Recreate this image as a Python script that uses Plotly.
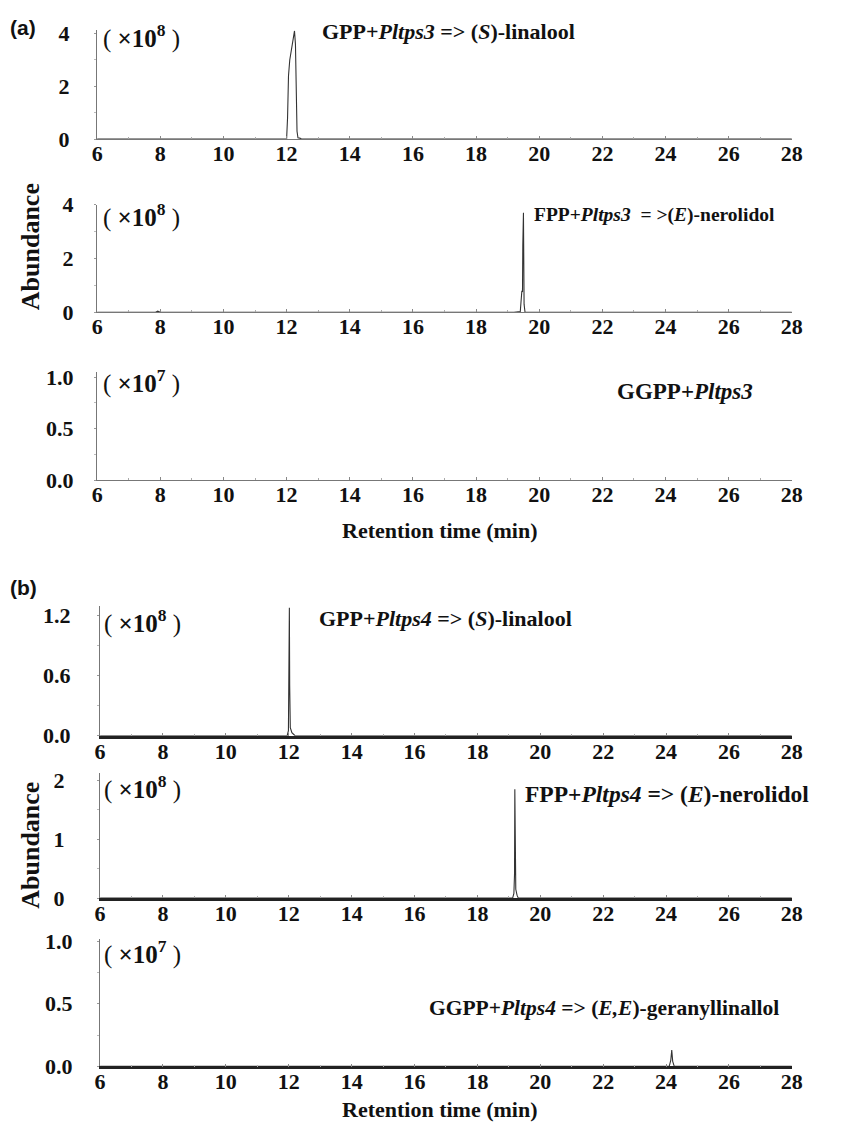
import plotly.graph_objects as go

W, H = 845, 1138

# ---------------- data (retention time in min, abundance in axis units) -------------
t1 = [6.0, 12.0, 12.03, 12.06, 12.1, 12.17, 12.22, 12.25, 12.28, 12.31, 12.33, 12.36, 12.42, 12.48, 28.0]
a1 = [0, 0, 0.8, 2.4, 3.0, 3.6, 4.0, 4.1, 3.6, 1.5, 0.3, 0.05, 0.04, 0, 0]

t2 = [6.0, 7.85, 7.92, 8.0, 19.2, 19.4, 19.45, 19.47, 19.48, 19.5, 19.52, 19.55, 28.0]
a2 = [0, 0, 0.04, 0, 0, 0.03, 0.8, 0.75, 2.5, 3.7, 0.3, 0, 0]

t3 = [6.0, 28.0]
a3 = [0, 0]

t4 = [6.0, 11.95, 11.99, 12.0, 12.01, 12.02, 12.03, 12.05, 12.1, 12.2, 28.0]
a4 = [0, 0, 0.05, 0.5, 0.45, 1.28, 0.5, 0.08, 0.03, 0, 0]

t5 = [6.0, 19.12, 19.16, 19.18, 19.19, 19.2, 19.22, 19.26, 19.3, 28.0]
a5 = [0, 0, 0.08, 0.4, 1.85, 0.35, 0.15, 0.05, 0, 0]

t6 = [6.0, 24.1, 24.15, 24.18, 24.21, 24.26, 28.0]
a6 = [0, 0, 0.05, 0.13, 0.04, 0, 0]

x_ticks = [6, 8, 10, 12, 14, 16, 18, 20, 22, 24, 26, 28]
y_ticks = [[0, 2, 4], [0, 2, 4], [0.0, 0.5, 1.0], [0.0, 0.6, 1.2], [0, 1, 2], [0.0, 0.5, 1.0]]
y_ticktext = [["0", "2", "4"], ["0", "2", "4"], ["0.0", "0.5", "1.0"],
              ["0.0", "0.6", "1.2"], ["0", "1", "2"], ["0.0", "0.5", "1.0"]]
exponents = ["8", "8", "7", "8", "8", "7"]
labels = ["GPP+<i>Pltps3</i> => (<i>S</i>)-linalool",
          "FPP+<i>Pltps3</i>  = >(<i>E</i>)-nerolidol",
          "GGPP+<i>Pltps3</i>",
          "GPP+<i>Pltps4</i> => (<i>S</i>)-linalool",
          "FPP+<i>Pltps4</i> => (<i>E</i>)-nerolidol",
          "GGPP+<i>Pltps4</i> => (<i>E,E</i>)-geranyllinallol"]

series = [(t1, a1), (t2, a2), (t3, a3), (t4, a4), (t5, a5), (t6, a6)]

# ---------------- layout (pixel geometry) ----------------
y_top = [4.15, 4.0, 1.05, 1.3, 2.13, 1.016]
y_minor = [1, 1, 0.25, 0.3, 0.5, 0.25]
base_px = [130, 307, 479, 740, 906, 1078]
top_px = [18, 197, 368, 607, 778, 948]
left_px = [93, 93, 93, 96, 96, 96]
right_px = 802
standoff = [20, 16, 16, 22, 28, 20]
scale_pos = [(97, 25), (97, 208), (97, 378), (98, 623), (98, 793), (98, 962)]
label_pos = [(320, 20), (537, 208), (622, 388), (317, 620), (528, 800), (430, 1018)]
label_size = [22, 19.5, 23, 22, 23.5, 21.5]


def px(x):
    return x / W


def py(y):
    return 1 - y / H


serif = "Liberation Serif"
fig = go.Figure()
layout = dict(width=W, height=H, margin=dict(l=0, r=0, t=0, b=0),
              paper_bgcolor="white", plot_bgcolor="white", showlegend=False)

ann = []
for i, (t, a) in enumerate(series):
    k = "" if i == 0 else str(i + 1)
    fig.add_trace(go.Scatter(x=t, y=a, mode="lines", xaxis="x" + k, yaxis="y" + k,
                             line=dict(color="#333333", width=1.1), hoverinfo="skip"))
    bold_base = i >= 3
    layout["xaxis" + k] = dict(
        domain=[px(left_px[i]), px(right_px)], range=[6, 28], anchor="y" + k,
        tickvals=x_ticks, ticktext=[str(v) for v in x_ticks],
        showgrid=False, zeroline=False, showline=True,
        linecolor="#222222" if bold_base else "#777777", linewidth=2.5 if bold_base else 1.3,
        ticks="inside", ticklen=3, tickcolor="#888888", ticklabelstandoff=-6,
        minor=dict(dtick=1, ticks="inside", ticklen=2, tickcolor="#aaaaaa"),
        tickfont=dict(family=serif, size=22, color="#111111", weight="bold"))
    layout["yaxis" + k] = dict(
        domain=[py(base_px[i]), py(top_px[i])], range=[0, y_top[i]], anchor="x" + k,
        tickvals=y_ticks[i], ticktext=y_ticktext[i],
        showgrid=False, zeroline=False, showline=True, linecolor="#777777", linewidth=1.3,
        ticks="outside", ticklen=2, tickcolor="#999999", ticklabelstandoff=standoff[i],
        minor=dict(dtick=y_minor[i], ticks="outside", ticklen=2, tickcolor="#bbbbbb"),
        tickfont=dict(family=serif, size=22, color="#111111", weight="bold"))
    scale_txt = "(\u00a0<b>×10<sup>" + exponents[i] + "</sup></b>\u00a0)"
    ann.append(dict(text=scale_txt, x=px(scale_pos[i][0]), y=py(scale_pos[i][1]),
                    xref="paper", yref="paper", xanchor="left", yanchor="middle",
                    showarrow=False, font=dict(family=serif, size=25, color="#111111")))
    ann.append(dict(text=labels[i], x=px(label_pos[i][0]), y=py(label_pos[i][1]),
                    xref="paper", yref="paper", xanchor="left", yanchor="middle",
                    showarrow=False,
                    font=dict(family=serif, size=label_size[i], color="#111111", weight="bold")))

for txt, yy in [("(a)", 16), ("(b)", 588)]:
    ann.append(dict(text=txt, x=px(2), y=py(yy), xref="paper", yref="paper",
                    xanchor="left", yanchor="middle", showarrow=False,
                    font=dict(family="Liberation Sans", size=21, color="#111111", weight="bold")))
for yy in [240, 852]:
    ann.append(dict(text="Abundance", x=px(25), y=py(yy), xref="paper", yref="paper",
                    xanchor="center", yanchor="middle", textangle=-90, showarrow=False,
                    font=dict(family=serif, size=26, color="#111111", weight="bold")))
for yy in [530, 1122]:
    ann.append(dict(text="Retention time (min)", x=px(443), y=py(yy), xref="paper", yref="paper",
                    xanchor="center", yanchor="middle", showarrow=False,
                    font=dict(family=serif, size=22, color="#111111", weight="bold")))

layout["annotations"] = ann
fig.update_layout(**layout)
fig.write_html("out.html")
